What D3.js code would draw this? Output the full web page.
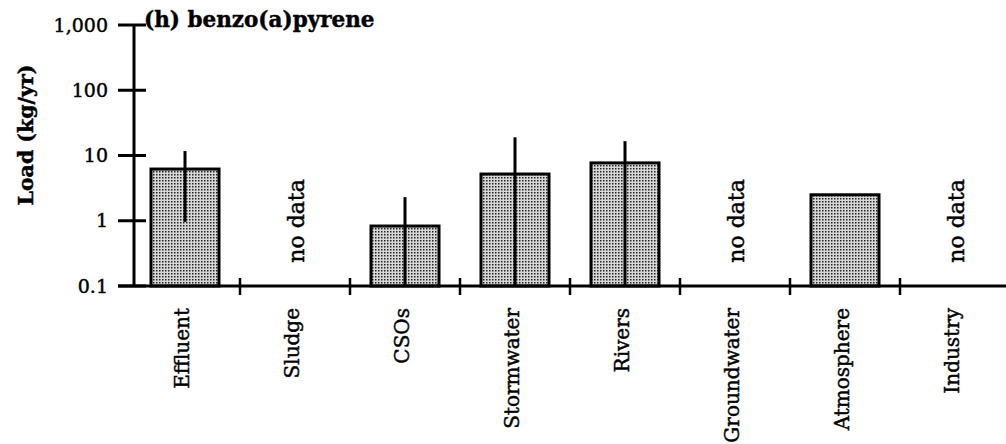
<!DOCTYPE html>
<html>
<head>
<meta charset="utf-8">
<title>benzo(a)pyrene loads</title>
<script src="https://cdnjs.cloudflare.com/ajax/libs/d3/7.8.5/d3.min.js"></script>
<style>
  body { margin: 0; background: #fff; }
  svg text { font-family: "DejaVu Serif", "Liberation Serif", serif; fill: #000; stroke: #000; stroke-width: 0.45px; }
</style>
</head>
<body>
<div id="chart"></div>
<script>
// loads in kg/yr, null where there is no data
var categories = ["Effluent", "Sludge", "CSOs", "Stormwater", "Rivers", "Groundwater", "Atmosphere", "Industry"];
var loads      = [6.2, null, 0.83, 5.2, 7.7, null, 2.5, null];
var errHigh    = [11.7, null, 2.3, 19, 16.6, null, null, null];
var errLow     = [0.96, null, 0.1, 0.1, 0.1, null, null, null];
var yTicks     = [0.1, 1, 10, 100, 1000];
var yTickLabels = ["0.1", "1", "10", "100", "1,000"];

var W = 1006, H = 444;
var svg = d3.select("#chart").append("svg")
    .attr("width", W).attr("height", H);

// stipple fill like the printed bars
var pat = svg.append("defs").append("pattern")
    .attr("id", "stip").attr("patternUnits", "userSpaceOnUse")
    .attr("width", 3).attr("height", 3);
pat.append("rect").attr("width", 3).attr("height", 3).attr("fill", "#d8d8d8");
pat.append("rect").attr("x", 0).attr("y", 0).attr("width", 1.5).attr("height", 1.5).attr("fill", "#222");

var axisX = 134, baseY = 286;
var y = d3.scaleLog().domain([0.1, 1000]).range([baseY, 25]);
var x = d3.scaleBand().domain(categories).range([130, 1010]);
var barW = 68;

// bars
categories.forEach(function(c, i) {
  var cx = x(c) + x.bandwidth() / 2;
  if (loads[i] == null) {
    svg.append("text")
      .attr("transform", "translate(" + (cx + 9) + "," + 221 + ") rotate(-90)")
      .attr("text-anchor", "middle")
      .style("font-size", "22px")
      .text("no data");
    return;
  }
  svg.append("rect")
    .attr("x", cx - barW / 2).attr("y", y(loads[i]))
    .attr("width", barW).attr("height", baseY - y(loads[i]))
    .attr("fill", "url(#stip)")
    .attr("stroke", "#000").attr("stroke-width", 3);
  if (errHigh[i] != null) {
    svg.append("line")
      .attr("x1", cx).attr("x2", cx)
      .attr("y1", y(errHigh[i])).attr("y2", y(errLow[i]))
      .attr("stroke", "#000").attr("stroke-width", 3);
  }
});

// y axis
svg.append("line")
  .attr("x1", axisX).attr("x2", axisX).attr("y1", y(1000)).attr("y2", baseY)
  .attr("stroke", "#000").attr("stroke-width", 3);
yTicks.forEach(function(t, i) {
  svg.append("line")
    .attr("x1", 118).attr("x2", 146).attr("y1", y(t)).attr("y2", y(t))
    .attr("stroke", "#000").attr("stroke-width", 3);
  svg.append("text")
    .attr("x", 108).attr("y", y(t)).attr("dy", "0.35em")
    .attr("text-anchor", "end")
    .style("font-size", "19px")
    .text(yTickLabels[i]);
});

// x axis
svg.append("line")
  .attr("x1", 118).attr("x2", 1006).attr("y1", baseY).attr("y2", baseY)
  .attr("stroke", "#000").attr("stroke-width", 3);
categories.slice(1).forEach(function(c) {
  svg.append("line")
    .attr("x1", x(c)).attr("x2", x(c)).attr("y1", baseY - 8).attr("y2", baseY + 9)
    .attr("stroke", "#000").attr("stroke-width", 2.5);
});
categories.forEach(function(c) {
  var cx = x(c) + x.bandwidth() / 2;
  svg.append("text")
    .attr("transform", "translate(" + (cx + 4) + "," + 308 + ") rotate(-90)")
    .attr("text-anchor", "end")
    .style("font-size", "20px")
    .text(c);
});

// titles
svg.append("text")
  .attr("x", 144).attr("y", 27)
  .style("font-size", "21.5px").style("font-weight", "bold")
  .text("(h) benzo(a)pyrene");
svg.append("text")
  .attr("transform", "translate(33,135) rotate(-90)")
  .attr("text-anchor", "middle")
  .style("font-size", "20.5px").style("font-weight", "bold")
  .text("Load (kg/yr)");
</script>
</body>
</html>
